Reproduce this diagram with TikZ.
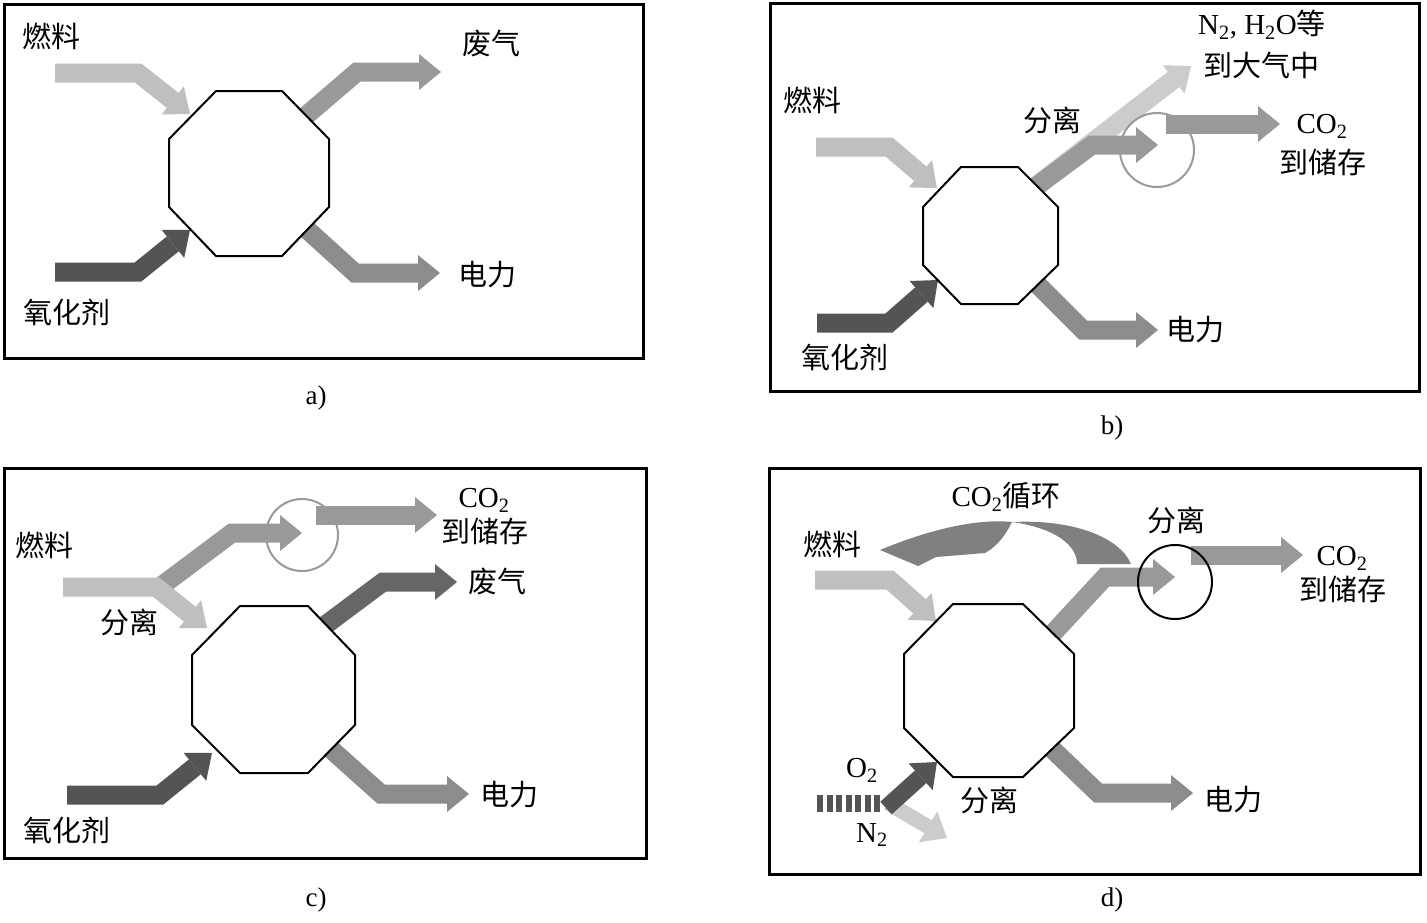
\documentclass[tikz,border=0pt]{standalone}
\usepackage{fontspec}
\setmainfont{Liberation Serif}
\newfontfamily\cjk{Noto Sans CJK SC}
\usetikzlibrary{arrows.meta}

\definecolor{fuelgray}{gray}{0.75}
\definecolor{oxgray}{gray}{0.33}
\definecolor{outgray}{gray}{0.6}
\definecolor{powgray}{gray}{0.55}
\definecolor{exgray}{gray}{0.4}
\definecolor{lightgray2}{gray}{0.8}
\definecolor{recgray}{gray}{0.5}

\tikzset{
  fat/.style={line width=19pt, line join=miter,
    -{Triangle[length=22pt, width=36pt, line width=0pt]}},
  box/.style={draw, line width=3pt},
  reactor/.style={draw, line width=2pt, fill=white, line join=miter},
  sep/.style={draw, line width=2pt},
  zh/.style={font=\cjk\fontsize{29}{31}\selectfont, inner sep=0pt},
  en/.style={font=\fontsize{29}{31}\selectfont, inner sep=0pt},
  caption/.style={font=\fontsize{27}{29}\selectfont, inner sep=0pt},
}

\begin{document}
\begin{tikzpicture}[x=1pt, y=-1pt]
        \useasboundingbox (0,0) rectangle (1427,922);

        % Panel frames
        \draw[box] (4,4) rectangle (643,358);
        \draw[box] (770,3) rectangle (1419,391);
        \draw[box] (4,468) rectangle (646,858);
        \draw[box] (769,468) rectangle (1420,874);

        % a) plain combustion
        \draw[fat, fuelgray] (55,73) -- (138,73) -- (190,114);
        \draw[fat, oxgray] (55,272) -- (138,272) -- (190,230);
        \draw[fat, outgray] (280,138) -- (357,72) -- (441,72);
        \draw[fat, powgray] (280,205) -- (355,273) -- (440,273);
        \draw[reactor] (216,91) -- (282,91) -- (329,139) -- (329,207) -- (282,256) -- (216,256) -- (169,207) -- (169,139) -- cycle;
        \node[zh] (fuelA) at (52,36) {燃料};
        \node[zh] (exhA) at (491,44) {废气};
        \node[zh] (powA) at (487,275) {电力};
        \node[zh] (oxA) at (67,312) {氧化剂};
        \node[caption] (capA) at (316,398) {a)};

        % b) separation after combustion
        \draw[fat, fuelgray] (816,147) -- (889,147) -- (937,188);
        \draw[fat, oxgray] (817,323) -- (889,323) -- (938,280);
        \draw[fat, lightgray2] (1010,206) -- (1191,66);
        \draw[fat, outgray] (1010,206) -- (1092,145) -- (1158,145);
        \draw[fat, outgray] (1166,124) -- (1280,124);
        \draw[sep, outgray] (1157,150) circle (37pt);
        \draw[fat, powgray] (1012,259) -- (1083,330) -- (1158,330);
        \draw[reactor] (961,167) -- (1018,167) -- (1058,207) -- (1058,265) -- (1018,304) -- (961,304) -- (923,265) -- (923,207) -- cycle;
        \node[zh] (fuelB) at (812,100) {燃料};
        \node[zh] (oxB) at (845,357) {氧化剂};
        \node[zh] (sepB) at (1052,120) {分离};
        \node[en] (ventB) at (1262,25) {N\textsubscript{2}, H\textsubscript{2}O{\cjk 等}};
        \node[zh] (atmB) at (1261,65) {到大气中};
        \node[en] (co2B) at (1322,126) {CO\textsubscript{2}};
        \node[zh] (stoB) at (1323,162) {到储存};
        \node[zh] (powB) at (1195,330) {电力};
        \node[caption] (capB) at (1112,428) {b)};

        % c) separation before combustion
        \draw[fat, outgray] (160,587) -- (232,533) -- (302,533);
        \draw[fat, fuelgray] (63,587) -- (156,587) -- (207,628);
        \draw[fat, outgray] (316,515) -- (437,515);
        \draw[sep, outgray] (302,535) circle (36pt);
        \draw[fat, exgray] (300,644) -- (383,582) -- (457,582);
        \draw[fat, oxgray] (67,795) -- (160,795) -- (212,753);
        \draw[fat, powgray] (305,726) -- (381,794) -- (469,794);
        \draw[reactor] (240,606) -- (308,606) -- (355,655) -- (355,725) -- (308,773) -- (240,773) -- (192,725) -- (192,655) -- cycle;
        \node[zh] (fuelC) at (45,545) {燃料};
        \node[zh] (sepC) at (129,622) {分离};
        \node[en] (co2C) at (484,500) {CO\textsubscript{2}};
        \node[zh] (stoC) at (485,531) {到储存};
        \node[zh] (exhC) at (497,581) {废气};
        \node[zh] (powC) at (509,795) {电力};
        \node[zh] (oxC) at (67,830) {氧化剂};
        \node[caption] (capC) at (316,900) {c)};

        % d) oxy-fuel with CO2 recycle
        \draw[fat, fuelgray] (815,580) -- (890,580) -- (936,621);
        % recycle ribbon, two halves meeting at the top
        \fill[recgray] (1012,522) .. controls (1075,519) and (1120,538) .. (1131,564) -- (1077,564) .. controls (1077,545) and (1055,528) .. cycle;
        \fill[recgray] (1012,522) .. controls (985,519) and (940,525) .. (880,550) -- (918,566) -- (936,557) -- (985,553) .. controls (998,546) and (1006,534) .. cycle;
        \draw[fat, outgray] (1030,658) -- (1105,577) -- (1175,577);
        \draw[fat, outgray] (1191,555) -- (1303,555);
        \draw[sep, black] (1175,582) circle (37pt);
        \draw[fat, powgray] (1025,723) -- (1098,793) -- (1193,793);
        \draw[oxgray, line width=17pt, dash pattern=on 6pt off 3.5pt] (817,803) -- (881,803);
        \draw[fat, lightgray2, line width=15pt] (888,803) -- (947,838);
        \draw[fat, oxgray, line width=17pt] (886,808) -- (937,762);
        \draw[reactor] (953,604) -- (1023,604) -- (1074,654) -- (1074,728) -- (1023,777) -- (953,777) -- (904,728) -- (904,654) -- cycle;
        \node[zh] (fuelD) at (832,544) {燃料};
        \node[en] (recD) at (1006,497) {CO\textsubscript{2}{\cjk 循环}};
        \node[zh] (sepD) at (1176,520) {分离};
        \node[en] (co2D) at (1342,558) {CO\textsubscript{2}};
        \node[zh] (stoD) at (1343,589) {到储存};
        \node[zh] (sepD2) at (989,800) {分离};
        \node[zh] (powD) at (1233,800) {电力};
        \node[en] (o2D) at (862,770) {O\textsubscript{2}};
        \node[en] (n2D) at (872,835) {N\textsubscript{2}};
        \node[caption] (capD) at (1112,900) {d)};
\end{tikzpicture}
\end{document}
